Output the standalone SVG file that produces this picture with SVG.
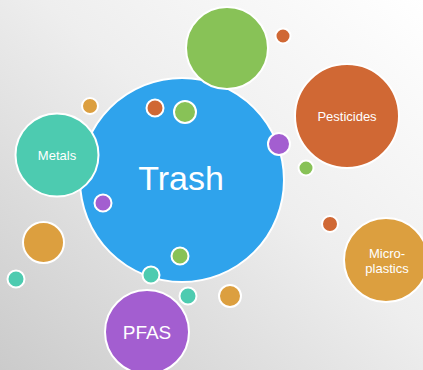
<svg xmlns="http://www.w3.org/2000/svg" width="423" height="370" viewBox="0 0 423 370">
<defs>
<linearGradient id="bg" x1="1" y1="0" x2="0" y2="1">
<stop offset="0" stop-color="#ffffff"/>
<stop offset="0.45" stop-color="#eeeeee"/>
<stop offset="1" stop-color="#cbcbcb"/>
</linearGradient>
</defs>
<style>
circle{stroke:#ffffff;stroke-width:2}
.blue{fill:#2fa3ec}
.green{fill:#88c257}
.red{fill:#d06834}
.teal{fill:#4dcbb0}
.purple{fill:#a35ed0}
.orange{fill:#dc9f3f}
text{fill:#ffffff;font-family:"Century Gothic","Liberation Sans",Arial,sans-serif;text-anchor:middle}
</style>
<rect width="423" height="370" fill="url(#bg)"/>
<g id="connectors"/>
<g id="trash"><circle class="blue" cx="182" cy="180" r="102"/><text x="181" y="190" font-size="34">Trash</text></g>
<g id="green-big"><circle class="green" cx="227" cy="48" r="41"/></g>
<g id="dot-red-top"><circle class="red" cx="283" cy="36" r="7.5"/></g>
<g id="pesticides"><circle class="red" cx="347" cy="116" r="52"/><text x="347" y="121" font-size="13">Pesticides</text></g>
<g id="dot-green-right"><circle class="green" cx="306" cy="168" r="7.5"/></g>
<g id="dot-purple-edge"><circle class="purple" cx="279" cy="144" r="11"/></g>
<g id="dot-orange-top"><circle class="orange" cx="90" cy="106" r="8"/></g>
<g id="metals"><circle class="teal" cx="57" cy="155" r="41.5"/><text x="57" y="160" font-size="13">Metals</text></g>
<g id="dot-red-in"><circle class="red" cx="155" cy="108" r="8.5"/></g>
<g id="dot-green-in"><circle class="green" cx="185" cy="112" r="11"/></g>
<g id="dot-purple-in"><circle class="purple" cx="103" cy="203" r="8.5"/></g>
<g id="dot-green-low"><circle class="green" cx="180" cy="256" r="8.5"/></g>
<g id="dot-teal-edge"><circle class="teal" cx="151" cy="275" r="8.5"/></g>
<g id="orange-left"><circle class="orange" cx="43.5" cy="242.5" r="20.5"/></g>
<g id="dot-teal-left"><circle class="teal" cx="16" cy="279" r="8.5"/></g>
<g id="dot-teal-bottom"><circle class="teal" cx="188" cy="296" r="8.5"/></g>
<g id="dot-orange-bottom"><circle class="orange" cx="230" cy="296" r="11"/></g>
<g id="dot-red-right"><circle class="red" cx="330" cy="224" r="8"/></g>
<g id="microplastics"><circle class="orange" cx="386" cy="260" r="42"/><text x="387" y="258" font-size="13">Micro-</text><text x="387" y="273" font-size="13">plastics</text></g>
<g id="pfas"><circle class="purple" cx="147" cy="332" r="42"/><text x="147" y="339" font-size="19">PFAS</text></g>
</svg>
